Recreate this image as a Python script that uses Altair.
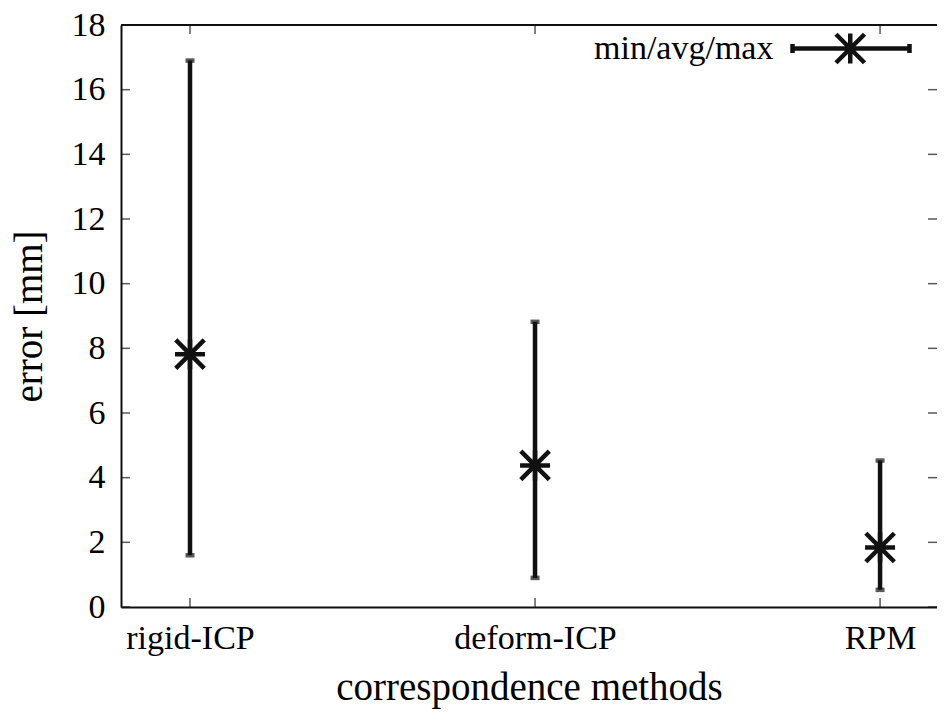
import altair as alt
import pandas as pd

# ---- data ----
methods = ["rigid-ICP", "deform-ICP", "RPM"]
positions = [1, 2, 3]
err_min = [1.6, 0.9, 0.53]
err_avg = [7.82, 4.38, 1.84]
err_max = [16.9, 8.82, 4.53]
series_name = "min/avg/max"

y_ticks = [0, 2, 4, 6, 8, 10, 12, 14, 16, 18]
x_domain = [0.8, 3.165]
y_domain = [0, 18]

FONT = "Liberation Serif"
INK = "#111111"
LW = 4.5

df = pd.DataFrame({
    "pos": positions,
    "method": methods,
    "lo": err_min,
    "avg": err_avg,
    "hi": err_max,
    "series": [series_name] * len(methods),
})
ticks_y = pd.DataFrame({"v": y_ticks})
ticks_x = pd.DataFrame({"v": positions})

label_expr = " : ".join(
    f"datum.value == {p} ? '{m}'" for p, m in zip(positions, methods)
) + " : ''"

xscale = alt.Scale(domain=x_domain, nice=False, zero=False)
yscale = alt.Scale(domain=y_domain, nice=False, zero=False)

x_axis = alt.Axis(
    values=positions, labelExpr=label_expr, title="correspondence methods",
    labelPadding=14, titlePadding=13, labelFlush=False, labelOverlap=False,
)
y_axis = alt.Axis(
    values=y_ticks, title="error [mm]", labelPadding=16, titlePadding=22,
)

star = "M-1,0L1,0M0,-1L0,1M-0.95,-0.95L0.95,0.95M-0.95,0.95L0.95,-0.95"
# legend key: error bar with caps and star, drawn to the right of the label
legend_sym = (
    "M14.4,0L22.2,0M14.4,-0.3L14.4,0.3M22.2,-0.3L22.2,0.3"
    "M18.25,-1L18.25,1M17.3,-0.95L19.2,0.95M17.3,0.95L19.2,-0.95"
)

base = alt.Chart(df)

bars = base.mark_rule(color=INK, strokeWidth=LW).encode(
    x=alt.X("pos:Q", scale=xscale, axis=x_axis),
    y=alt.Y("lo:Q", scale=yscale, axis=y_axis),
    y2="hi:Q",
)
cap_lo = base.mark_tick(orient="horizontal", size=9, thickness=LW, color=INK).encode(
    x="pos:Q", y="lo:Q"
)
cap_hi = base.mark_tick(orient="horizontal", size=9, thickness=LW, color=INK).encode(
    x="pos:Q", y="hi:Q"
)
points = base.mark_point(shape=star, size=900, strokeWidth=LW, filled=False, opacity=1).encode(
    x="pos:Q",
    y="avg:Q",
    stroke=alt.Stroke(
        "series:N",
        scale=alt.Scale(range=[INK]),
        legend=alt.Legend(
            title=None, orient="none", legendX=438, legendY=6, padding=0,
            symbolType=legend_sym, symbolSize=900, symbolStrokeWidth=LW,
            symbolStrokeColor=INK, symbolFillColor="transparent",
            labelAlign="left", labelOffset=0, labelFont=FONT,
            labelFontSize=34, labelColor="black", labelLimit=400,
        ),
    ),
)

top_border = alt.Chart(df).mark_rule(color=INK, strokeWidth=2).encode(
    x=alt.datum(x_domain[0]), x2=alt.datum(x_domain[1]), y=alt.datum(y_domain[1])
)

tick_kw = dict(size=9, thickness=1.5, color=INK)
left_ticks = alt.Chart(ticks_y).mark_tick(orient="horizontal", xOffset=4.5, **tick_kw).encode(
    y="v:Q", x=alt.datum(x_domain[0])
)
right_ticks = alt.Chart(ticks_y).mark_tick(orient="horizontal", xOffset=-4.5, **tick_kw).encode(
    y="v:Q", x=alt.datum(x_domain[1])
)
bottom_ticks = alt.Chart(ticks_x).mark_tick(orient="vertical", yOffset=-4.5, **tick_kw).encode(
    x="v:Q", y=alt.datum(y_domain[0])
)
top_ticks = alt.Chart(ticks_x).mark_tick(orient="vertical", yOffset=4.5, **tick_kw).encode(
    x="v:Q", y=alt.datum(y_domain[1])
)

chart = alt.layer(
    bars, cap_lo, cap_hi, points, top_border,
    left_ticks, right_ticks, bottom_ticks, top_ticks,
).properties(
    width=816, height=582,
    autosize=alt.AutoSizeParams(type="none"),
    padding={"left": 113, "top": 17, "right": 0, "bottom": 102},
    background="white",
).configure_view(stroke=None).configure_axis(
    labelFont=FONT, titleFont=FONT, labelFontSize=34, titleFontSize=39,
    titleFontWeight="normal", labelColor="black", titleColor="black",
    grid=False, ticks=False, domainColor=INK, domainWidth=2,
)

chart.save("out.html", embed_options={"renderer": "svg", "actions": False})
